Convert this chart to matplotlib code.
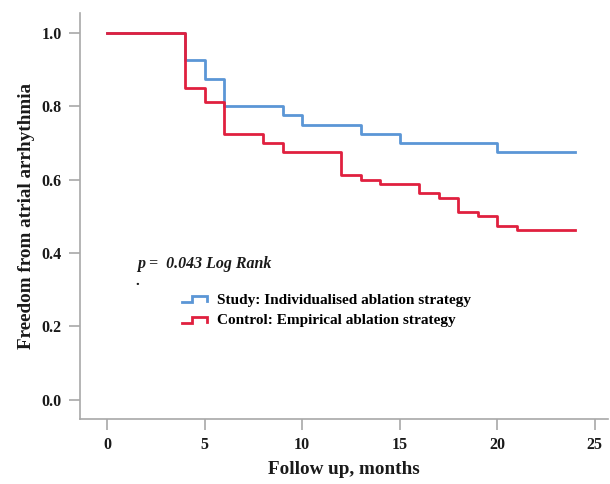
import matplotlib
matplotlib.use("Agg")
import matplotlib.pyplot as plt
from matplotlib.legend_handler import HandlerLine2D
from matplotlib.lines import Line2D

# step data (months, survival fraction)
study_t = [0, 4, 5, 6, 9, 10, 13, 15, 20, 24]
study_s = [1.0, 0.925, 0.875, 0.8, 0.775, 0.75, 0.725, 0.7, 0.675, 0.675]

control_t = [0, 4, 5, 6, 8, 9, 12, 13, 14, 16, 17, 18, 19, 20, 21, 24]
control_s = [1.0, 0.85, 0.8125, 0.725, 0.7, 0.675, 0.6125, 0.6, 0.5875,
             0.5625, 0.55, 0.5125, 0.5, 0.475, 0.4625, 0.4625]

x_ticks = [0, 5, 10, 15, 20, 25]
y_ticks = [0.0, 0.2, 0.4, 0.6, 0.8, 1.0]

BLUE = "#5b96d6"
RED = "#e0203f"
GRAY = "#a8a8a8"
INK = "#1a1a1a"

plt.rcParams["font.family"] = ["Liberation Serif", "DejaVu Serif"]
plt.rcParams["font.weight"] = "bold"


class StepHandler(HandlerLine2D):
    # legend key drawn as a little step, like the SPSS output
    def create_artists(self, legend, orig_handle, xdescent, ydescent,
                       width, height, fontsize, trans):
        x0, x1 = -xdescent, -xdescent + width
        xm = x0 + width * 0.42
        lo, hi = -ydescent + height * 0.15, -ydescent + height * 0.72
        ln = Line2D([x0, xm, xm, x1, x1], [lo, lo, hi, hi, lo + height * 0.08],
                    color=orig_handle.get_color(), lw=orig_handle.get_linewidth(),
                    solid_joinstyle="miter")
        ln.set_transform(trans)
        return [ln]


W, H = 610, 484
fig = plt.figure(figsize=(W / 100, H / 100), dpi=100)
ax = fig.add_axes([80 / W, (H - 419) / H, (608 - 80) / W, (419 - 13) / H])

l1, = ax.step(study_t, study_s, where="post", color=BLUE, lw=2.0)
l2, = ax.step(control_t, control_s, where="post", color=RED, lw=2.0)

ax.set_xlim(-1.385, 25.69)
ax.set_ylim(-0.052, 1.054)
ax.set_xticks(x_ticks)
ax.set_yticks(y_ticks)
ax.set_yticklabels([f"{v:.1f}" for v in y_ticks])

for s in ["top", "right"]:
    ax.spines[s].set_visible(False)
for s in ["left", "bottom"]:
    ax.spines[s].set_color(GRAY)
    ax.spines[s].set_linewidth(1.2)
ax.tick_params(colors=GRAY, length=8, width=1.2, labelsize=11.5,
               labelcolor=INK)
ax.tick_params(axis="x", pad=5)
ax.tick_params(axis="y", pad=5)
for lab in ax.get_xticklabels() + ax.get_yticklabels():
    lab.set_fontweight("bold")

ax.set_xlabel("Follow up, months", fontsize=13.8, fontweight="bold",
              color=INK, labelpad=6)
ax.set_ylabel("Freedom from atrial arrhythmia", fontsize=13.8,
              fontweight="bold", color=INK, labelpad=5)

ax.text(1.54, 0.37, "p =  0.043 Log Rank", fontsize=11.5, fontweight="bold",
        style="italic", color=INK, ha="left", va="center")
ax.text(1.45, 0.313, ".", fontsize=11, fontweight="bold", color=INK,
        va="baseline")

ax.legend([l1, l2], ["Study: Individualised ablation strategy",
                     "Control: Empirical ablation strategy"],
          handler_map={Line2D: StepHandler()},
          loc="upper left", bbox_to_anchor=(0.193, 0.31), frameon=False,
          prop={"weight": "bold", "size": 11}, handlelength=1.65,
          handletextpad=0.65, labelspacing=0.45, borderaxespad=0,
          borderpad=0)

fig.savefig("out.png", dpi=100)
